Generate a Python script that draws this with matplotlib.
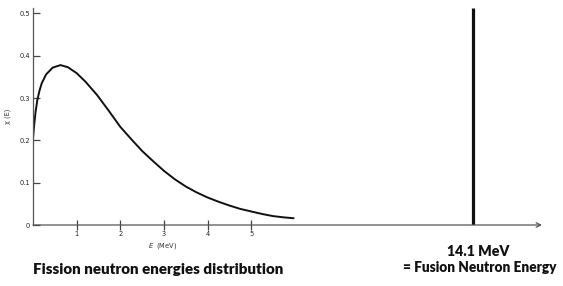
import matplotlib
matplotlib.use("Agg")
import matplotlib.pyplot as plt

# Fission neutron energy spectrum chi(E)
energy_mev = [0.0, 0.03, 0.06, 0.1, 0.15, 0.2, 0.3, 0.45, 0.63, 0.8, 1.0, 1.2,
              1.47, 1.75, 2.0, 2.25, 2.5, 2.75, 3.0, 3.25, 3.5, 3.75, 4.0,
              4.25, 4.5, 4.75, 5.0, 5.25, 5.5, 5.75, 5.97]
chi_values = [0.205, 0.240, 0.268, 0.296, 0.318, 0.335, 0.356, 0.372, 0.378, 0.373,
              0.359, 0.339, 0.307, 0.268, 0.232, 0.203, 0.175, 0.151, 0.128, 0.108,
              0.091, 0.077, 0.065, 0.055, 0.046, 0.038, 0.032, 0.026, 0.021, 0.018,
              0.016]

x_ticks = [1, 2, 3, 4, 5]
y_ticks = [0, 0.1, 0.2, 0.3, 0.4, 0.5]
y_tick_labels = ["0", "0.1", "0.2", "0.3", "0.4", "0.5"]

fusion_label = "14.1 MeV"
fusion_line_x = 10.08   # where the (not to scale) 14.1 MeV line is drawn
fusion_line_top = 0.513

fig = plt.figure(figsize=(5.63, 2.86), dpi=100)
ax = fig.add_axes([33 / 563, 61 / 286, (542 - 33) / 563, (225 - 8) / 286])
ax.set_xlim(0, 11.66)
ax.set_ylim(0, 0.513)

ax.plot(energy_mev, chi_values, color="#111111", lw=1.4,
        solid_capstyle="round", solid_joinstyle="round")
ax.vlines(fusion_line_x, 0, fusion_line_top, color="#111111", lw=2.3)

for s in ["top", "right", "bottom"]:
    ax.spines[s].set_visible(False)
ax.spines["left"].set_color("#555555")
ax.spines["left"].set_linewidth(0.9)

# x axis with open arrow
ax.annotate("", xy=(1.0, 0), xytext=(0, 0), xycoords="axes fraction",
            arrowprops=dict(arrowstyle="->", color="#555555", lw=0.9,
                            shrinkA=0, shrinkB=0, mutation_scale=8))

ax.set_yticks(y_ticks)
ax.set_yticklabels(y_tick_labels)
ax.tick_params(axis="y", direction="in", length=5, width=0.9, color="#444444",
               labelsize=4.8, pad=2, labelcolor="#222222")
ax.set_xticks(x_ticks)
ax.tick_params(axis="x", direction="inout", length=7, width=0.9, color="#444444",
               labelsize=4.8, pad=1, labelcolor="#222222", bottom=True)

ax.set_ylabel("χ (E)", fontsize=4.8, color="#333333", labelpad=6)
ax.set_xlabel("$E$  (MeV)", fontsize=4.8, color="#333333", labelpad=2)
ax.xaxis.set_label_coords((163 - 33) / 509, -0.075)

fig.text(158 / 563, 1 - 270 / 286, "Fission neutron energies distribution",
         ha="center", va="center", fontsize=10.9, fontweight="heavy",
         family="Lato", color="#111111")
fig.text(478 / 563, 1 - 252 / 286, fusion_label,
         ha="center", va="center", fontsize=10.2, fontweight="heavy",
         family="Lato", color="#111111")
fig.text(480 / 563, 1 - 267 / 286, "= Fusion Neutron Energy",
         ha="center", va="center", fontsize=9.8, fontweight="heavy",
         family="Lato", color="#111111")

fig.savefig("out.png", dpi=100)
